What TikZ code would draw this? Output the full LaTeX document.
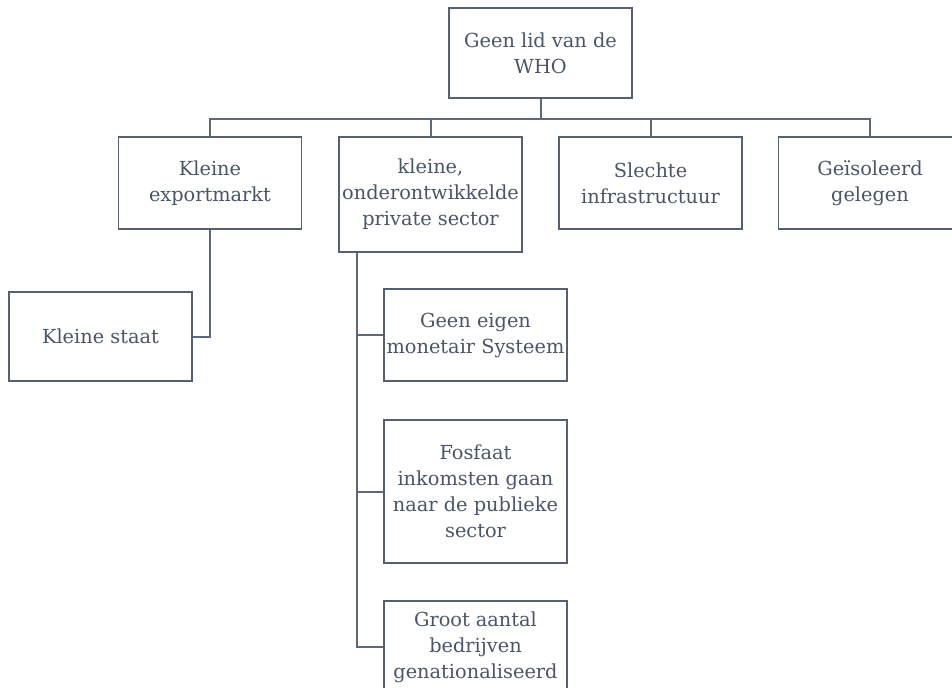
\documentclass[tikz,border=0pt]{standalone}
\usepackage{fontspec}
\setmainfont{DejaVu Serif}
\usetikzlibrary{calc}

\definecolor{boxline}{HTML}{56606F}
\definecolor{boxtext}{HTML}{4A5568}
\definecolor{linkline}{HTML}{5F6878}

\begin{document}
\begin{tikzpicture}[
		x={(0.75pt,0pt)},
		y={(0pt,-0.75pt)},
		box/.style={draw=boxline, line width=1.2pt, fill=white, text=boxtext, align=center,
			inner sep=0pt, minimum width=137.25pt, minimum height=69pt,
			font=\fontsize{14.5}{19.5}\selectfont},
		link/.style={draw=linkline, line width=1.5pt}
	]

		\useasboundingbox (0,0) rectangle (952,688);

		% top
		\node[box, minimum height=67.5pt] (who) at (540.5,53) {Geen lid van de\\WHO};

		% row 1
		\node[box] (export) at (210,183) {Kleine\\exportmarkt};
		\node[box, minimum height=86.25pt] (priv) at (430.5,194.5) {kleine,\\onderontwikkelde\\private sector};
		\node[box] (slecht) at (650.5,183) {Slechte\\infrastructuur};
		\node[box] (isol) at (870,183) {Geïsoleerd\\gelegen};

		% under export
		\node[box, minimum height=66.75pt] (staat) at (100.5,336.5) {Kleine staat};

		% under private sector
		\node[box] (monetair) at (475.5,335) {Geen eigen\\monetair Systeem};
		\node[box, minimum height=107.25pt] (fosfaat) at (475.5,491.5) {Fosfaat\\inkomsten gaan\\naar de publieke\\sector};
		\node[box] (groot) at (475.5,647) {Groot aantal\\bedrijven\\genationaliseerd};

		% bus
		\draw[link] (who.south) -- ++(0,20) coordinate (bus);
		\draw[link] (bus) -| (export.north);
		\draw[link] (bus) -| (priv.north);
		\draw[link] (bus) -| (slecht.north);
		\draw[link] (bus) -| (isol.north);

		\draw[link] (export.south) |- (staat.east);

		% trunk on the left of private sector
		\coordinate (trunk) at ($(priv.south west)+(19,0)$);
		\draw[link] (trunk) |- (monetair.west);
		\draw[link] (trunk) |- (fosfaat.west);
		\draw[link] (trunk) |- (groot.west);

	\end{tikzpicture}
\end{document}
